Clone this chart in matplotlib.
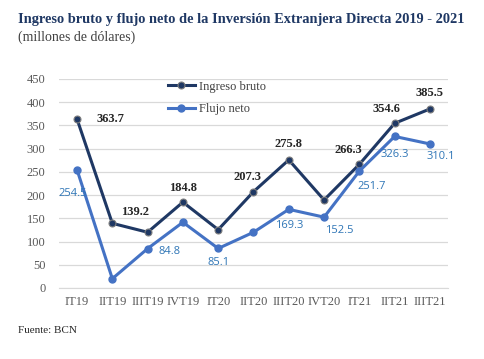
import matplotlib.pyplot as plt

# Data
quarters = ["IT19", "IIT19", "IIIT19", "IVT19", "IT20", "IIT20",
            "IIIT20", "IVT20", "IT21", "IIT21", "IIIT21"]
ingreso_bruto = [363.7, 139.2, 120.0, 184.8, 125.6, 207.3,
                 275.8, 189.5, 266.3, 354.6, 385.5]
flujo_neto = [254.5, 20.0, 84.8, 141.5, 85.1, 120.0,
              169.3, 152.5, 251.7, 326.3, 310.1]

# label offsets (points) for the shown values
ingreso_labels = {0: (14, 0, "left", "center"), 1: (6, 4, "left", "bottom"),
                  3: (0, 6, "center", "bottom"), 5: (-4, 6, "center", "bottom"),
                  6: (0, 7, "center", "bottom"), 8: (-8, 6, "center", "bottom"),
                  9: (-6, 6, "center", "bottom"), 10: (0, 7, "center", "bottom")}
flujo_labels = {0: (-3, -17, "center", "center"), 2: (8, -2, "left", "center"),
                4: (0, -6, "center", "top"), 6: (0, -8, "center", "top"),
                7: (11, -6, "center", "top"), 8: (9, -7, "center", "top"),
                9: (0, -9, "center", "top"), 10: (8, -5, "center", "top")}

dark = "#1f3864"
blue = "#4472c4"
serif = "Liberation Serif"

fig = plt.figure(figsize=(4.84, 3.59), dpi=100)
ax = fig.add_axes([0.1227, 0.1978, 0.8021, 0.5822])

x = range(len(quarters))
ax.plot(x, ingreso_bruto, color=dark, lw=2.2, marker="o", ms=5,
        mfc=dark, mec="#7f7f7f", mew=0.8, label="Ingreso bruto", zorder=3)
ax.plot(x, flujo_neto, color=blue, lw=2.2, marker="o", ms=5,
        mfc=blue, mec=blue, label="Flujo neto", zorder=3)

for i, (dx, dy, ha, va) in ingreso_labels.items():
    ax.annotate(f"{ingreso_bruto[i]:.1f}", (i, ingreso_bruto[i]),
                xytext=(dx, dy), textcoords="offset points", ha=ha, va=va,
                fontsize=9, family=serif, fontweight="bold", color="#262626")
for i, (dx, dy, ha, va) in flujo_labels.items():
    ax.annotate(f"{flujo_neto[i]:.1f}", (i, flujo_neto[i]),
                xytext=(dx, dy), textcoords="offset points", ha=ha, va=va,
                fontsize=8, family="Open Sans", color="#2e75b6")

ax.set_xlim(-0.5, len(quarters) - 0.5)
ax.set_ylim(0, 450)
ax.set_yticks(range(0, 451, 50))
ax.set_xticks(list(x))
ax.set_xticklabels(quarters)
ax.grid(axis="y", color="#d9d9d9", lw=0.9)
ax.set_axisbelow(True)
for s in ["top", "right", "left"]:
    ax.spines[s].set_visible(False)
ax.spines["bottom"].set_color("#d9d9d9")
ax.tick_params(length=0, labelsize=9, labelcolor="#595959", pad=6)
for lab in ax.get_xticklabels() + ax.get_yticklabels():
    lab.set_family(serif)
ax.tick_params(axis="y", pad=10)

leg = ax.legend(loc="upper left", bbox_to_anchor=(0.25, 1.045), frameon=False,
                prop={"family": serif, "size": 9}, handlelength=2.2,
                labelspacing=0.85, handletextpad=0.3)
for t in leg.get_texts():
    t.set_color("#404040")

fig.text(0.037, 0.947, "Ingreso bruto y flujo neto de la Inversión Extranjera Directa 2019 - 2021",
         family=serif, fontweight="bold", fontsize=10.4, color=dark, va="center")
fig.text(0.037, 0.897, "(millones de dólares)", family=serif, fontsize=10,
         color="#404040", va="center")
fig.text(0.037, 0.08, "Fuente: BCN", family=serif, fontsize=8, color="#262626",
         va="center")

plt.savefig("out.png", dpi=100)
plt.close()
